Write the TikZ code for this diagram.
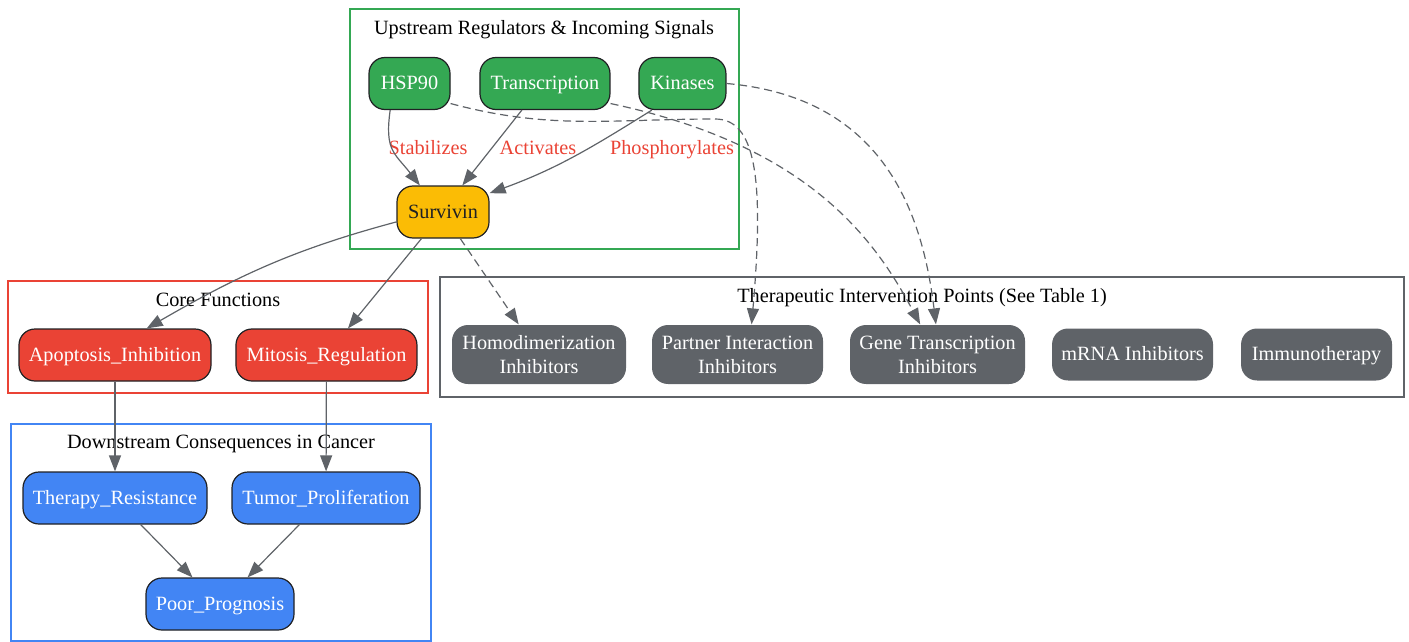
\documentclass[tikz,border=0pt]{standalone}
\usepackage{fontspec}
\setmainfont{Liberation Serif}
\usetikzlibrary{arrows.meta}

\definecolor{gGreen}{HTML}{34A853}
\definecolor{gYellow}{HTML}{FBBC05}
\definecolor{gRed}{HTML}{EA4335}
\definecolor{gBlue}{HTML}{4285F4}
\definecolor{gGray}{HTML}{5F6368}
\definecolor{inkDark}{HTML}{202124}

\begin{document}
\begin{tikzpicture}[x=0.75pt,y=0.75pt,>={Triangle[length=12pt,width=9pt]},
                    font=\fontsize{15.2}{18}\selectfont]
  \tikzstyle{oneline}=[text height=11.5pt,text depth=2pt]
  \tikzstyle{box}=[draw=inkDark,line width=0.9pt,rounded corners=12pt,
                   minimum height=39pt,inner xsep=3pt,text=white]
  \tikzstyle{upstream}=[box,oneline,fill=gGreen]
  \tikzstyle{hub}=[box,oneline,fill=gYellow,text=inkDark]
  \tikzstyle{core}=[box,oneline,fill=gRed]
  \tikzstyle{down}=[box,oneline,fill=gBlue]
  \tikzstyle{target}=[box,draw=none,fill=gGray,align=center]
  \tikzstyle{frame}=[line width=1pt]
  \tikzstyle{title}=[oneline]
  \tikzstyle{lbl}=[oneline,text=gRed]
  \tikzstyle{link}=[->,draw=gGray,line width=0.9pt]
  \tikzstyle{hint}=[link,dash pattern=on 6pt off 3.5pt]

  \useasboundingbox (0,0) rectangle (1409,-642);

  % cluster frames
  \draw[frame,gGreen] (350,-9) rectangle (739,-249);
  \draw[frame,gRed]   (8,-281) rectangle (428,-393);
  \draw[frame,gBlue]  (11,-424) rectangle (431,-641);
  \draw[frame,gGray]  (440,-277) rectangle (1404,-397);

  \node[title] (tUp)   at (544,-28)  {Upstream Regulators \& Incoming Signals};
  \node[title] (tCore) at (218,-300) {Core Functions};
  \node[title] (tDown) at (221,-442) {Downstream Consequences in Cancer};
  \node[title] (tTher) at (922,-296) {Therapeutic Intervention Points (See Table 1)};

  % upstream
  \node[upstream,minimum width=60.75pt] (hsp) at (409.5,-83.5) {HSP90};
  \node[upstream,minimum width=97.5pt]  (tra) [node distance=101.6pt,right of=hsp] {Transcription};
  \node[upstream,minimum width=65.25pt] (kin) [node distance=103.1pt,right of=tra] {Kinases};
  \node[hub,minimum width=69pt]         (sur) at (443,-212) {Survivin};

  % core functions
  \node[core,minimum width=144pt]    (apo) at (115,-355) {Apoptosis\_Inhibition};
  \node[core,minimum width=135.75pt] (mit) [node distance=158.6pt,right of=apo] {Mitosis\_Regulation};

  % downstream
  \node[down,minimum width=138pt] (the) at (115,-498) {Therapy\_Resistance};
  \node[down,minimum width=141pt] (tum) [node distance=158.25pt,right of=the] {Tumor\_Proliferation};
  \node[down,minimum width=111pt] (poo) at (220,-604) {Poor\_Prognosis};

  % therapeutic targets
  \node[target,minimum width=130.5pt,minimum height=44.25pt] (hom) at (539,-354.5) {Homodimerization\\Inhibitors};
  \node[target,minimum width=128.25pt,minimum height=44.25pt] (par) [node distance=148.9pt,right of=hom] {Partner Interaction\\Inhibitors};
  \node[target,minimum width=131.25pt,minimum height=44.25pt] (gen) [node distance=150pt,right of=par] {Gene Transcription\\Inhibitors};
  \node[target,oneline,minimum width=120.75pt] (mrn) [node distance=146.25pt,right of=gen] {mRNA Inhibitors};
  \node[target,oneline,minimum width=113.25pt] (imm) [node distance=138pt,right of=mrn] {Immunotherapy};

  \node[lbl] (lStab) at (428,-148) {Stabilizes};
  \node[lbl] (lAct)  at (538,-148) {Activates};
  \node[lbl] (lPho)  at (672,-148) {Phosphorylates};

  \coordinate (bend) at (715,-119);

  \path (hsp.234) edge [link,out=262,in=128,looseness=1.3] (sur.131)
        (tra.229) edge [link]                (sur.54)
        (kin.221) edge [link,out=212,in=20]  (sur.22)
        (sur.192) edge [link,out=195,in=30]  (apo.40)
        (sur.231) edge [link]                (mit.51)
        (sur.303) edge [hint]                (hom.124)
        (tra.343) edge [hint,out=-12,in=118,out distance=150pt,in distance=75pt] (gen.120)
        (kin.east) edge [hint,out=-5,in=97,out distance=120pt,in distance=82pt]  (gen.93)
        (apo)     edge [link]                (the)
        (mit)     edge [link]                (tum)
        (the.-46) edge [link]                (poo.136)
        (tum.225) edge [link]                (poo.44);
  \draw[hint] (hsp.334) to[out=-15,in=180] (bend)
              to[out=0,in=85,out distance=30pt,in distance=112pt] (par.65);
\end{tikzpicture}
\end{document}
